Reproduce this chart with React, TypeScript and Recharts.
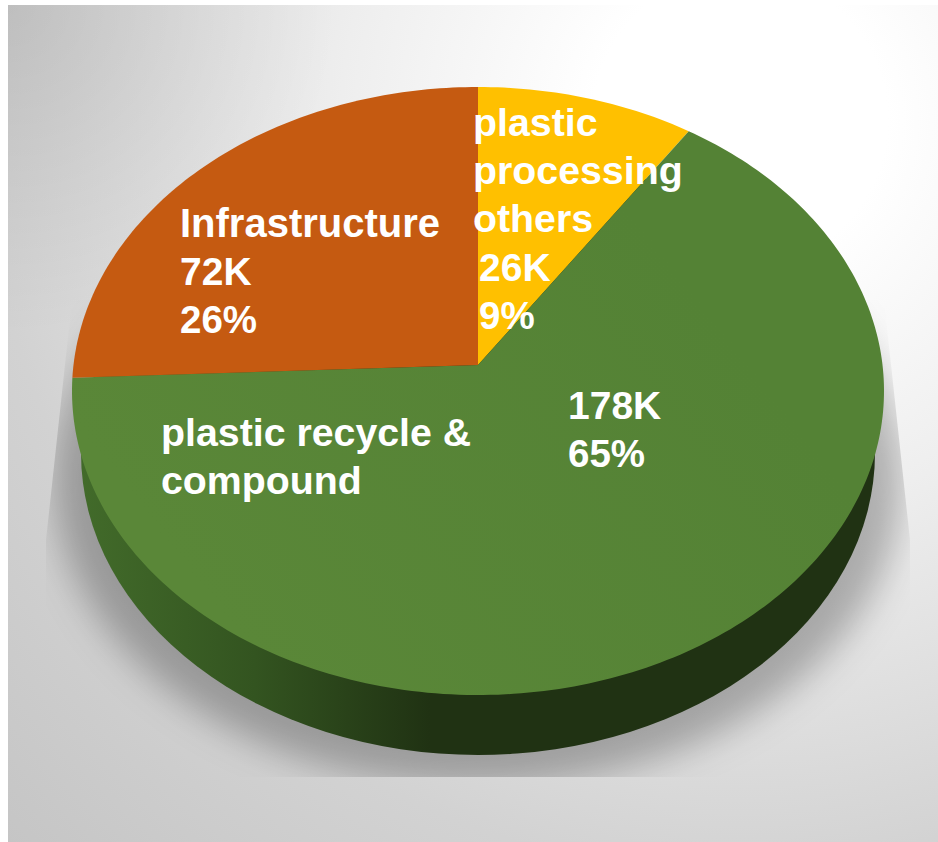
import React from "react";
import { PieChart, Pie, Cell } from "recharts";

const sliceNames = ["plastic processing others", "plastic recycle & compound", "Infrastructure"];
const sliceValues = [26, 178, 72];
const valueLabels = ["26K", "178K", "72K"];
const percentLabels = ["9%", "65%", "26%"];
const sliceFills = ["#ffc000", "url(#greenFace)", "#c55a11"];

const W = 938;
const H = 842;
const CX = 478;
const CY = 391;
const RX = 406;
const RY = 304;
const VERTEX_SHIFT = 26;
const LEFT_SKEW_DEG = 1.5;

const tilt = (VERTEX_SHIFT * 2) / (2 * RY);
const squeeze = Math.sqrt(1 - tilt * tilt);

// The flat pie angle is projected on to the tilted disc.
function project(angleDeg: number): [number, number] {
  const raw = ((90 - angleDeg) * Math.PI) / 180;
  const t = raw + (LEFT_SKEW_DEG * Math.PI * Math.max(0, -Math.sin(raw))) / 180;
  const u = Math.sin(t);
  const v = Math.cos(t);
  const d = 1 + tilt * v;
  return [CX + (RX * squeeze * u) / d, CY - (RY * v + VERTEX_SHIFT) / d];
}

function TiltedSlice(props: any) {
  const { startAngle, endAngle, fill } = props;
  const steps = Math.max(2, Math.ceil(Math.abs(endAngle - startAngle)));
  let d = `M ${CX} ${CY - VERTEX_SHIFT}`;
  for (let i = 0; i <= steps; i++) {
    const [x, y] = project(startAngle + ((endAngle - startAngle) * i) / steps);
    d += ` L ${x.toFixed(2)} ${y.toFixed(2)}`;
  }
  return <path d={d + " Z"} fill={fill} stroke="none" />;
}

const labelLines: string[][] = [
  ["plastic", "processing", "others"],
  ["plastic recycle &", "compound"],
  ["Infrastructure"],
];
const nameAnchors = [
  { x: 473, y: 136 },
  { x: 161, y: 446 },
  { x: 180, y: 237 },
];
const valueAnchors = [
  { x: 479, y: 281 },
  { x: 568, y: 419 },
  { x: 180, y: 285 },
];
const LINE = 48;

function SliceLabel(props: any) {
  const i = props.index as number;
  const shared = {
    fill: "#ffffff",
    fontFamily: "'Liberation Sans', Arial, sans-serif",
    fontWeight: 700,
  };
  return (
    <g>
      {labelLines[i].map((line, k) => (
        <text key={k} x={nameAnchors[i].x} y={nameAnchors[i].y + k * LINE} fontSize={i === 2 ? 40 : 39.3} {...shared}>
          {line}
        </text>
      ))}
      <text x={valueAnchors[i].x} y={valueAnchors[i].y} fontSize={39} {...shared}>
        {valueLabels[i]}
      </text>
      <text x={valueAnchors[i].x} y={valueAnchors[i].y + LINE} fontSize={38.5} {...shared}>
        {percentLabels[i]}
      </text>
    </g>
  );
}

const chartData = sliceNames.map((name, i) => ({ name, value: sliceValues[i] }));

export default function App() {
  return (
    <div style={{ position: "absolute", left: 0, top: 0, width: W, height: H, background: "#fff" }}>
      <svg width={W} height={H} style={{ position: "absolute", left: 0, top: 0 }}>
        <defs>
          <radialGradient id="bg" gradientUnits="userSpaceOnUse" cx={740} cy={120} r={1050}>
            <stop offset="0" stopColor="#ffffff" />
            <stop offset="0.14" stopColor="#ffffff" />
            <stop offset="0.38" stopColor="#eeeeee" />
            <stop offset="0.72" stopColor="#d2d2d2" />
            <stop offset="1" stopColor="#c4c4c4" />
          </radialGradient>
          <radialGradient id="corner" gradientUnits="userSpaceOnUse" cx={8} cy={5} r={330}>
            <stop offset="0" stopColor="#000000" stopOpacity={0.1} />
            <stop offset="1" stopColor="#000000" stopOpacity={0} />
          </radialGradient>
          <linearGradient id="wall" gradientUnits="userSpaceOnUse" x1={80} y1={0} x2={430} y2={0}>
            <stop offset="0" stopColor="#426b2a" />
            <stop offset="0.5" stopColor="#335420" />
            <stop offset="1" stopColor="#203213" />
          </linearGradient>
          <linearGradient id="greenFace" gradientUnits="userSpaceOnUse" x1={250} y1={650} x2={700} y2={300}>
            <stop offset="0" stopColor="#5a8738" />
            <stop offset="1" stopColor="#548235" />
          </linearGradient>
          <filter id="blur" x="-20%" y="-20%" width="140%" height="140%">
            <feGaussianBlur stdDeviation="18" />
          </filter>
          <clipPath id="shadowClip">
            <polygon points="72,300 46,540 46,777 910,777 910,540 884,300" />
          </clipPath>
        </defs>
        <rect x={8} y={5} width={W - 8} height={H - 5} fill="url(#bg)" />
        <rect x={8} y={5} width={W - 8} height={H - 5} fill="url(#corner)" />
        <g clipPath="url(#shadowClip)">
          <ellipse cx={478} cy={478} rx={424} ry={308} fill="#000000" fillOpacity={0.27} filter="url(#blur)" />
        </g>
        <ellipse cx={478} cy={453} rx={397} ry={302} fill="url(#wall)" />
      </svg>
      <div style={{ position: "absolute", left: 0, top: 0 }}>
        <PieChart width={W} height={H} margin={{ top: 0, right: 0, bottom: 0, left: 0 }}>
          <Pie
            data={chartData}
            dataKey="value"
            nameKey="name"
            cx={CX}
            cy={CY}
            outerRadius={RX}
            startAngle={90}
            endAngle={-270}
            stroke="none"
            isAnimationActive={false}
            shape={TiltedSlice}
            label={SliceLabel}
            labelLine={false}
          >
            {sliceFills.map((c) => (
              <Cell key={c} fill={c} />
            ))}
          </Pie>
        </PieChart>
      </div>
    </div>
  );
}
